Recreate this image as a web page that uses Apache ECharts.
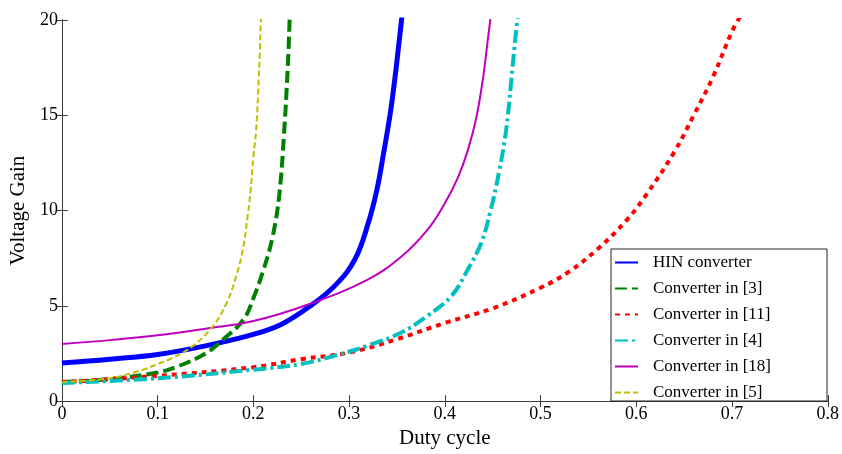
<!DOCTYPE html>
<html>
<head>
<meta charset="utf-8">
<script src="https://cdn.jsdelivr.net/npm/echarts@6/dist/echarts.min.js"></script>
<style>
html,body{margin:0;padding:0;background:#fff;}
#chart{width:842px;height:454px;}
</style>
</head>
<body>
<div id="chart"></div>
<script>
// Series names (legend order)
const seriesNames = ['HIN converter', 'Converter in [3]', 'Converter in [11]', 'Converter in [4]', 'Converter in [18]', 'Converter in [5]'];

// Tick labels
const xTicks = ['0', '0.1', '0.2', '0.3', '0.4', '0.5', '0.6', '0.7', '0.8'];
const yTicks = ['0', '5', '10', '15', '20'];

// HIN converter
const hinX = [0, 0.05, 0.1, 0.15, 0.2, 0.23, 0.261, 0.286, 0.306, 0.32, 0.329, 0.336, 0.343, 0.348, 0.353, 0.357];
const hinY = [2.0, 2.2, 2.45, 2.9, 3.5, 4.05, 5.05, 6.1, 7.43, 9.34, 11.08, 13.0, 15.1, 17.0, 19.2, 21.0];

// Converter in [3]
const c3X = [0, 0.05, 0.1, 0.12, 0.15, 0.17, 0.19, 0.2, 0.21, 0.22, 0.227, 0.232, 0.236, 0.238];
const c3Y = [1.0, 1.15, 1.5, 1.8, 2.5, 3.3, 4.3, 5.4, 6.8, 8.6, 10.8, 14.0, 17.6, 20.2];

// Converter in [11]
const c11X = [0, 0.1, 0.2, 0.25, 0.3, 0.35, 0.4, 0.45, 0.5, 0.53, 0.56, 0.59, 0.61, 0.64, 0.66, 0.68, 0.7, 0.71];
const c11Y = [1.0, 1.32, 1.78, 2.2, 2.55, 3.25, 4.1, 4.87, 5.95, 6.8, 8.0, 9.5, 10.8, 13.1, 15.0, 17.0, 19.4, 20.3];

// Converter in [4]
const c4X = [0, 0.1, 0.2, 0.251, 0.286, 0.32, 0.355, 0.382, 0.407, 0.424, 0.438, 0.448, 0.457, 0.464, 0.469, 0.474, 0.478];
const c4Y = [0.95, 1.2, 1.65, 1.96, 2.4, 2.92, 3.61, 4.48, 5.52, 6.91, 8.3, 10.04, 12.12, 14.2, 16.6, 19.2, 21.0];

// Converter in [18]
const c18X = [0, 0.05, 0.1, 0.15, 0.2, 0.258, 0.32, 0.355, 0.382, 0.4, 0.414, 0.424, 0.433, 0.44, 0.445, 0.45];
const c18Y = [3.0, 3.2, 3.45, 3.8, 4.2, 5.08, 6.39, 7.6, 9.0, 10.38, 11.77, 13.16, 14.9, 16.98, 19.0, 21.0];

// Converter in [5]
const c5X = [0, 0.05, 0.085, 0.1, 0.113, 0.137, 0.158, 0.172, 0.182, 0.189, 0.194, 0.197, 0.2, 0.203, 0.206, 0.208];
const c5Y = [1.0, 1.2, 1.65, 1.95, 2.2, 2.9, 3.95, 5.15, 6.55, 7.95, 9.7, 11.0, 12.8, 14.3, 17.4, 20.3];

const pairs = (xs, ys) => xs.map((x, i) => [x, ys[i]]);

const FONT = 'Liberation Serif';
const axisColor = '#3a3a3a';

const chart = echarts.init(document.getElementById('chart'), null, {renderer: 'canvas'});

function mk(name, xs, ys, color, width, type) {
  return {
    name: name,
    type: 'line',
    data: pairs(xs, ys),
    symbol: 'none',
    smooth: 0.4,
    clip: true,
    lineStyle: {color: color, width: width, type: type, cap: 'butt'},
    itemStyle: {color: color}
  };
}

const option = {
  animation: false,
  backgroundColor: '#fff',
  grid: {left: 58, right: 13, top: 20, bottom: 48, containLabel: false},
  xAxis: [{
    type: 'value', min: 0, max: 0.8, interval: 0.1,
    name: 'Duty cycle', nameLocation: 'middle', nameGap: 24,
    nameTextStyle: {fontFamily: FONT, fontSize: 21, color: '#000'},
    axisLine: {show: true, lineStyle: {color: axisColor, width: 1}},
    axisTick: {show: true, inside: true, length: 6, lineStyle: {color: axisColor}},
    axisLabel: {fontFamily: FONT, fontSize: 18, color: '#000', margin: 4,
      formatter: v => xTicks[Math.round(v * 10)]},
    splitLine: {show: false}
  }, {
    type: 'value', min: 0, max: 0.8, interval: 0.1, position: 'top',
    axisLine: {show: true, lineStyle: {color: axisColor, width: 1}},
    axisTick: {show: true, inside: true, length: 6, lineStyle: {color: axisColor}},
    axisLabel: {show: false}, splitLine: {show: false}
  }],
  yAxis: [{
    type: 'value', min: 0, max: 20, interval: 5,
    name: 'Voltage Gain', nameLocation: 'middle', nameGap: 23,
    nameTextStyle: {fontFamily: FONT, fontSize: 21, color: '#000'},
    axisLine: {show: true, lineStyle: {color: axisColor, width: 1}},
    axisTick: {show: true, inside: true, length: 6, lineStyle: {color: axisColor}},
    axisLabel: {fontFamily: FONT, fontSize: 18, color: '#000', margin: 4,
      formatter: v => yTicks[Math.round(v / 5)]},
    splitLine: {show: false}
  }, {
    type: 'value', min: 0, max: 20, interval: 5, position: 'right',
    axisLine: {show: true, lineStyle: {color: axisColor, width: 1}},
    axisTick: {show: true, inside: true, length: 6, lineStyle: {color: axisColor}},
    axisLabel: {show: false}, splitLine: {show: false}
  }],
  legend: {
    orient: 'vertical',
    left: 611, top: 249,
    padding: [5, 56, 0, 3],
    itemGap: 9,
    itemWidth: 23, itemHeight: 14,
    backgroundColor: '#fff',
    borderColor: '#222', borderWidth: 1,
    itemStyle: {opacity: 0},
    textStyle: {fontFamily: FONT, fontSize: 17, color: '#000', padding: [0, 0, 0, 10]},
    data: seriesNames
  },
  series: [
    mk(seriesNames[0], hinX, hinY, '#0000ff', 5, 'solid'),
    mk(seriesNames[1], c3X, c3Y, '#008000', 4, [12, 5]),
    mk(seriesNames[2], c11X, c11Y, '#ff0000', 4, [5, 5]),
    mk(seriesNames[3], c4X, c4Y, '#00bfbf', 4, [13, 4, 3, 4]),
    mk(seriesNames[4], c18X, c18Y, '#bf00bf', 2, 'solid'),
    mk(seriesNames[5], c5X, c5Y, '#bfbf00', 2, [6, 3])
  ]
};
chart.setOption(option);
</script>
</body>
</html>
